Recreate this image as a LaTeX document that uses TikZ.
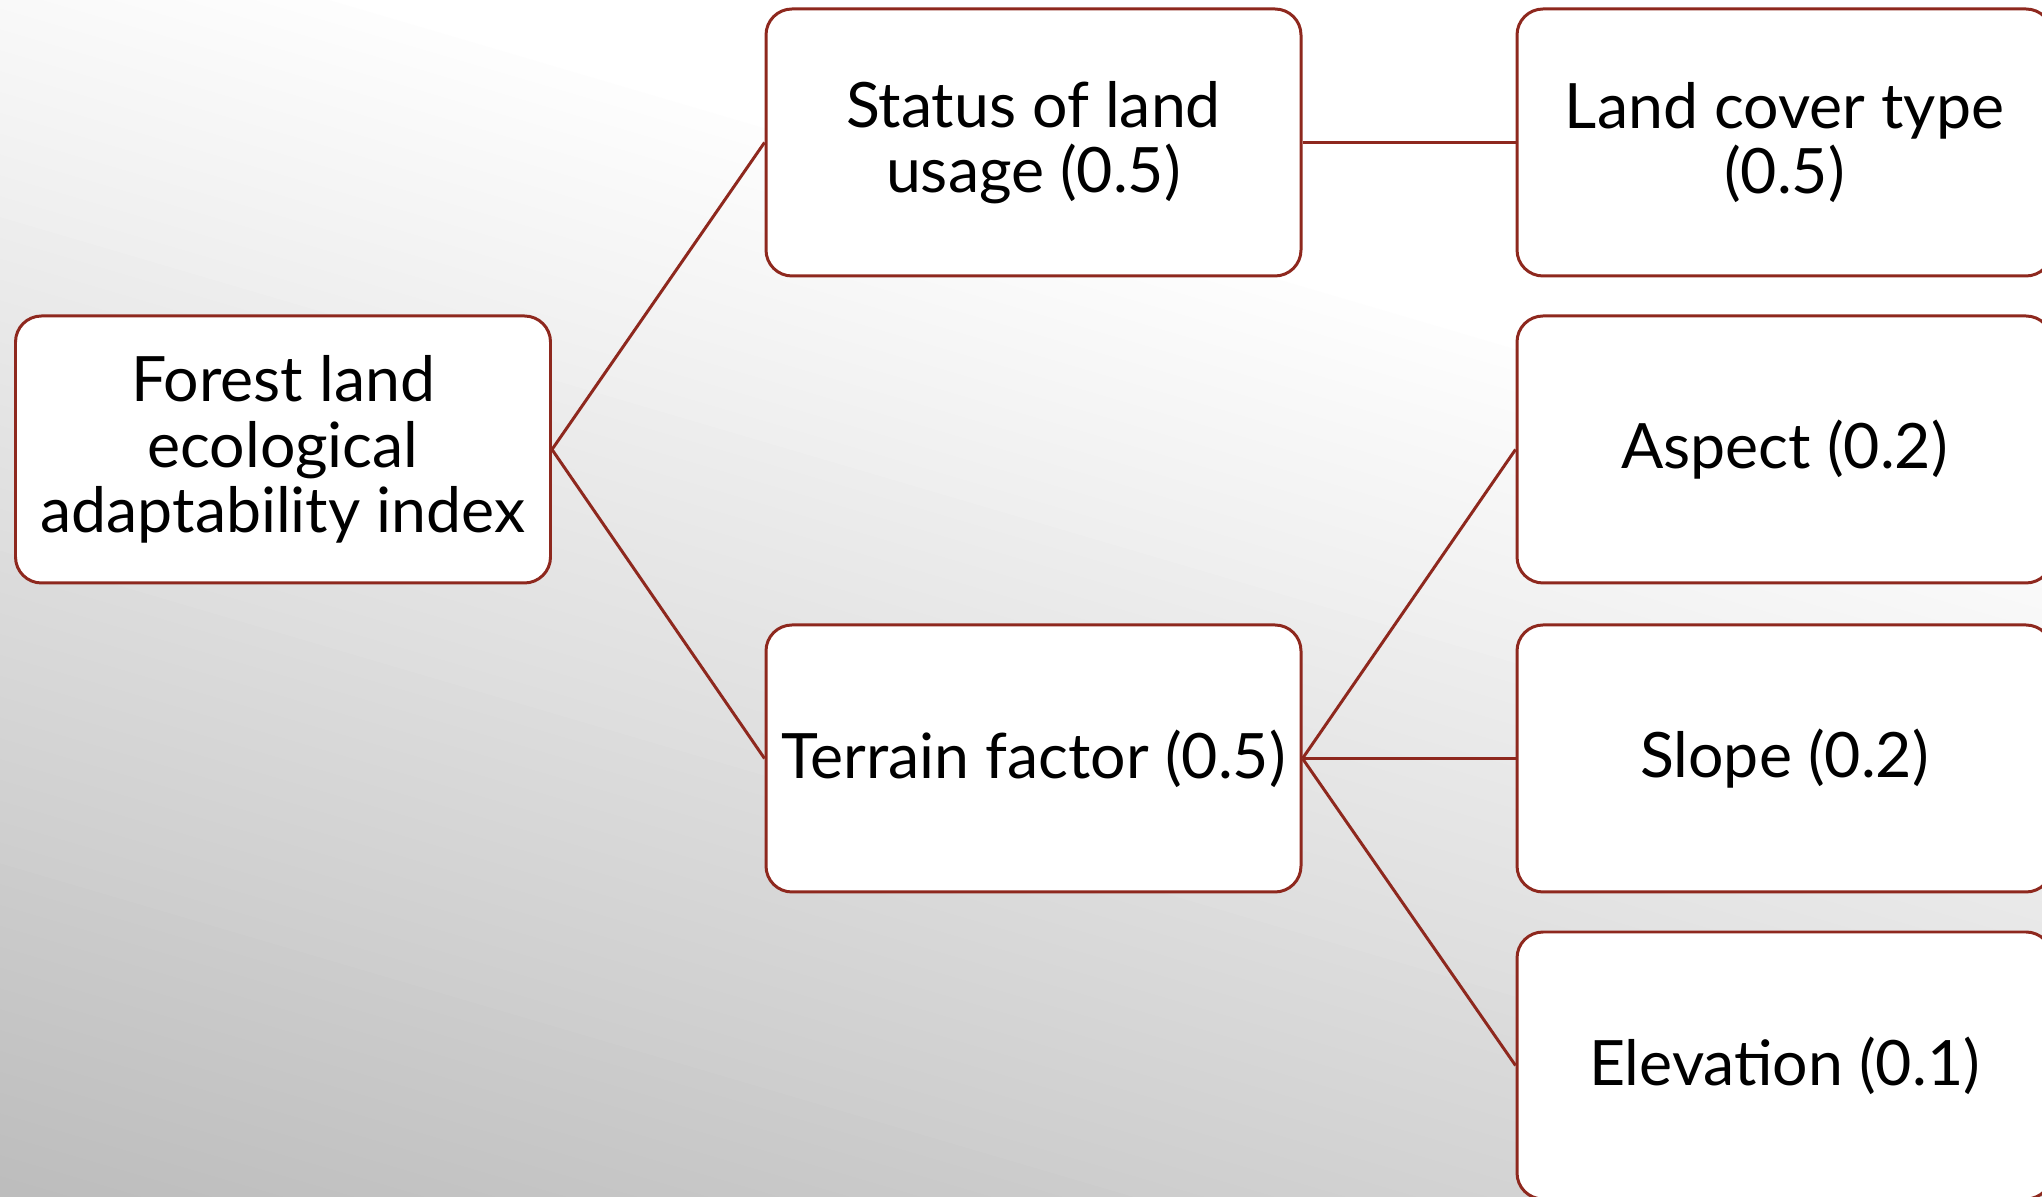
\documentclass[tikz,border=0pt]{standalone}
\usepackage{fontspec}
\setmainfont{Lato}
\definecolor{boxred}{RGB}{142,40,30}
\begin{document}
\begin{tikzpicture}[x=0.1mm,y=0.1mm,
  box/.style={draw=boxred, line width=0.85pt, fill=white, rounded corners=2.6mm,
    minimum width=53.5mm, minimum height=26.7mm, inner sep=0pt, align=center,
    font=\fontsize{17.8}{18.6}\selectfont, text=black},
  link/.style={draw=boxred, line width=0.85pt}]
\useasboundingbox (0,0) rectangle (2042,1197);
\begin{scope}
\clip (0,0) rectangle (2042,1197);
\fill[white] (0,0) rectangle (2042,1197);
\begin{scope}[rotate=-16.4]
\foreach \i in {0,...,61}{
  \pgfmathtruncatemacro{\v}{189+\i*66/62}
  \definecolor{bgstripe}{RGB}{\v,\v,\v}
  \fill[bgstripe] (-1500,{\i*20}) rectangle (3500,{\i*20+21});
}
\end{scope}
\end{scope}
\node[box] (root) at (283,747.5) {Forest land\\ecological\\adaptability index};
\node[box] (status) at (1033.5,1054.5) {Status of land\\usage (0.5)};
\node[box] (terrain) at (1033.5,438.5) {Terrain factor (0.5)};
\node[box] (cover) at (1784.5,1054.5) {Land cover type\\(0.5)};
\node[box] (aspect) at (1784.5,747.5) {Aspect (0.2)};
\node[box] (slope) at (1784.5,438.5) {Slope (0.2)};
\node[box] (elev) at (1784.5,131.5) {Elevation (0.1)};
\draw[link] (root.east) -- (status.west);
\draw[link] (root.east) -- (terrain.west);
\draw[link] (status.east) -- (cover.west);
\draw[link] (terrain.east) -- (aspect.west);
\draw[link] (terrain.east) -- (slope.west);
\draw[link] (terrain.east) -- (elev.west);
\end{tikzpicture}
\end{document}
